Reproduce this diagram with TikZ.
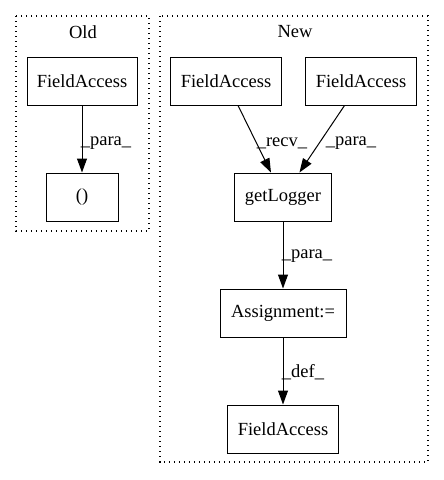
\documentclass[tikz,border=0pt]{standalone}
\usepackage{fontspec}
\setmainfont{Liberation Serif}
\usetikzlibrary{arrows.meta}
\begin{document}
\begin{tikzpicture}[x=1pt,y=-1pt,
  box/.style={draw,line width=1pt,inner sep=0pt,minimum height=48pt,font=\fontsize{18.5}{21}\selectfont},
  cluster/.style={draw,line width=1.1pt,dash pattern=on 1.3pt off 3.7pt},
  lbl/.style={font=\fontsize{18.5}{21}\selectfont,inner sep=0pt},
  edge/.style={draw,line width=1pt,-{Triangle[length=14pt,width=10pt]}}]
\useasboundingbox (0,0) rectangle (444,480);
% clusters
\draw[cluster] (16,16) rectangle (149,231);
\node[lbl] (oldt) at (83,32) {Old};
\draw[cluster] (160,16) rectangle (428,462);
\node[lbl] (newt) at (295,32) {New};
% old nodes
\node[box,minimum width=110pt] (ofa) at (82,81) {FieldAccess};
\node[box,minimum width=72pt] (opar) at (82,197) {()};
% new nodes
\node[box,minimum width=111pt] (fa1) at (226,81) {FieldAccess};
\node[box,minimum width=111pt] (fa2) at (361,81) {FieldAccess};
\node[box,minimum width=97pt] (gl) at (283,197) {getLogger};
\node[box,minimum width=126pt] (as) at (283,313) {Assignment:=};
\node[box,minimum width=111pt] (fa3) at (283,429) {FieldAccess};
% edges
\draw[edge] (ofa) -- (opar);
\draw[edge] (fa1) -- (gl);
\draw[edge] (fa2) -- (gl);
\draw[edge] (gl) -- (as);
\draw[edge] (as) -- (fa3);
% labels
\node[lbl] (l1) at (106,143) {\_para\_};
\node[lbl] (l2) at (282,143) {\_recv\_};
\node[lbl] (l3) at (351,143) {\_para\_};
\node[lbl] (l4) at (307,256) {\_para\_};
\node[lbl] (l5) at (303,372) {\_def\_};
\end{tikzpicture}
\end{document}
